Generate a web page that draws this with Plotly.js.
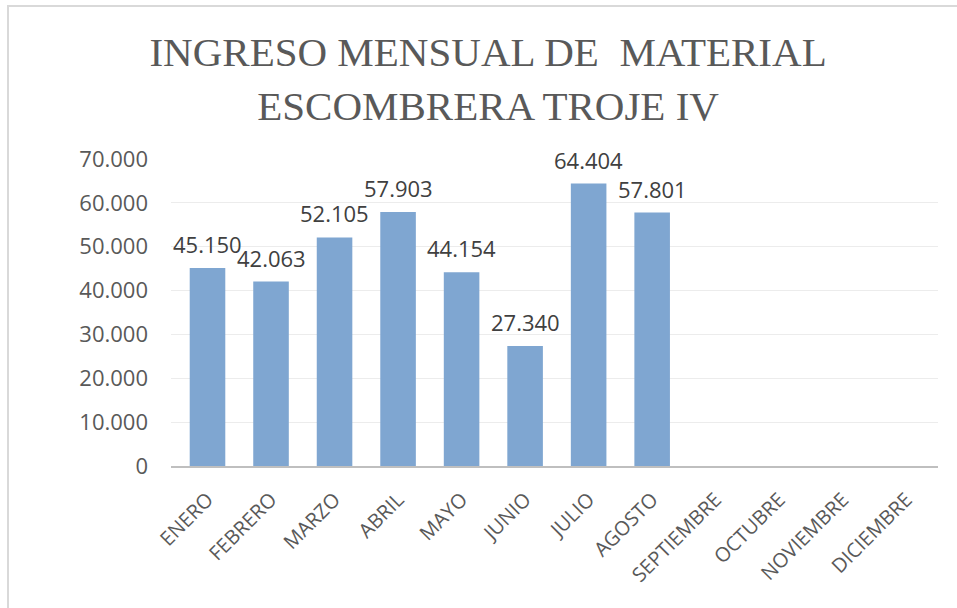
<!DOCTYPE html>
<html>
<head>
<meta charset="utf-8">
<script src="https://cdn.plot.ly/plotly-3.0.1.min.js"></script>
<style>
html,body{margin:0;padding:0;background:#fff;}
#wrap{position:relative;width:957px;height:608px;overflow:hidden;}
#chart{position:absolute;left:0;top:0;width:957px;height:608px;}
#frame{position:absolute;left:7px;top:5px;width:960px;height:620px;border-left:2px solid #d9d9d9;border-top:2px solid #d9d9d9;pointer-events:none;}
</style>
</head>
<body>
<div id="wrap"><div id="chart"></div><div id="frame"></div></div>
<script>
const months = ["ENERO","FEBRERO","MARZO","ABRIL","MAYO","JUNIO","JULIO","AGOSTO","SEPTIEMBRE","OCTUBRE","NOVIEMBRE","DICIEMBRE"];
const values = [45150, 42063, 52105, 57903, 44154, 27340, 64404, 57801, null, null, null, null];
const yTicks = [0, 10000, 20000, 30000, 40000, 50000, 60000, 70000];
const titleText = "INGRESO MENSUAL DE  MATERIAL<br>ESCOMBRERA TROJE IV";

const fmt = v => String(v).replace(/\B(?=(\d{3})+(?!\d))/g, ".");

const trace = {
  type: "bar",
  x: months,
  y: values,
  marker: {color: "#7fa6d1", line: {width: 0}},
  cliponaxis: false,
  hoverinfo: "none"
};

const labels = [];
months.forEach((m, i) => {
  if (values[i] !== null) {
    labels.push({
      x: m, y: values[i], xref: "x", yref: "y",
      text: fmt(values[i]),
      showarrow: false,
      yanchor: "bottom",
      yshift: 7,
      font: {family: "Open Sans, Liberation Sans, sans-serif", size: 22, color: "#404040"}
    });
  }
});

const layout = {
  width: 957,
  height: 608,
  separators: ",.",
  paper_bgcolor: "#ffffff",
  plot_bgcolor: "#ffffff",
  margin: {l: 171, r: 19, t: 159, b: 142},
  showlegend: false,
  bargap: 0.44,
  annotations: labels,
  title: {
    text: titleText,
    x: 0.51,
    xref: "container",
    xanchor: "center",
    y: 0.891,
    yref: "container",
    yanchor: "middle",
    font: {family: "Liberation Serif, serif", size: 41, color: "#595959"}
  },
  xaxis: {
    type: "category",
    tickangle: -45,
    tickfont: {family: "Open Sans, Liberation Sans, sans-serif", size: 20, color: "#595959"},
    showgrid: false,
    showline: true,
    linecolor: "#bfbfbf",
    linewidth: 2,
    ticks: "",
    ticklabelstandoff: 12,
    zeroline: false,
    fixedrange: true
  },
  yaxis: {
    range: [0, 70000],
    tickvals: yTicks,
    tickformat: ",",
    tickfont: {family: "Open Sans, Liberation Sans, sans-serif", size: 22, color: "#595959"},
    showgrid: true,
    gridcolor: "#ececec",
    gridwidth: 1,
    zeroline: false,
    showline: false,
    ticks: "",
    ticklabelstandoff: 22,
    fixedrange: true
  }
};

Plotly.newPlot("chart", [trace], layout, {displayModeBar: false, staticPlot: true});
</script>
</body>
</html>
